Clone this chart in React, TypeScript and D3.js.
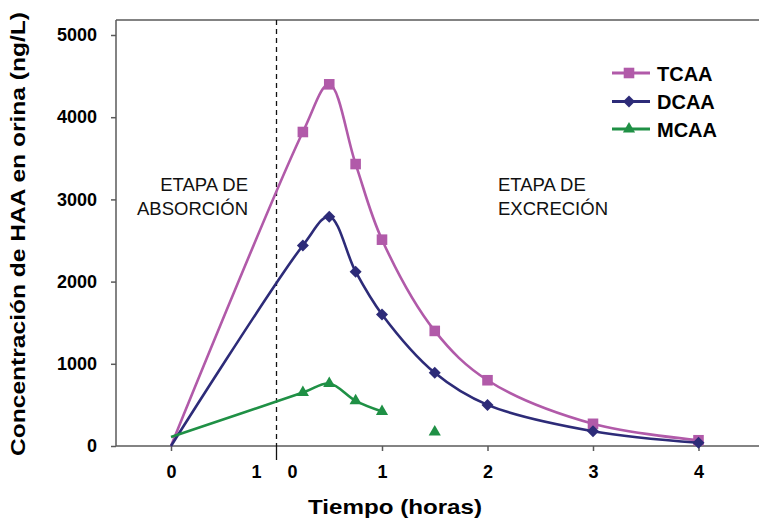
import React, { useEffect, useRef } from 'react';
import * as d3 from 'd3';

// tiempo en horas; -1 = comienzo de la etapa de absorción, 0 = inicio de la excreción
const tiempos = [-1, 0.25, 0.5, 0.75, 1, 1.5, 2, 3, 4];
const tcaa = [0, 3820, 4400, 3430, 2510, 1400, 800, 270, 70];
const dcaa = [0, 2440, 2790, 2120, 1600, 890, 500, 180, 40];
const mcaa = [110, 650, 760, 550, 420, 170, null, null, null];

const yTicks = [0, 1000, 2000, 3000, 4000, 5000];
const xTicksExcrecion = [1, 2, 3, 4];
const etiquetasDivisor = ['1', '0'];

const W = 759;
const H = 521;
const FONT = '"Liberation Sans", Arial, Helvetica, sans-serif';

const App = () => {
    const ref = useRef<SVGSVGElement>(null);

    useEffect(() => {
        const svg = d3.select(ref.current);
        svg.selectAll('*').remove();

        const frame = { left: 116, top: 20, right: W, bottom: 446 };
        const xScale = d3.scaleLinear().domain([-1, 4]).range([171, 698.5]);
        const yScale = d3.scaleLinear().domain([0, 5000]).range([446, 35]);
        const axisColor = '#5a5a5a';

        const series = [
            { name: 'TCAA', values: tcaa, color: '#b15aa9', symbol: d3.symbolSquare, size: 112, rot: 0, lineEnd: 9 },
            { name: 'DCAA', values: dcaa, color: '#2d2b78', symbol: d3.symbolSquare, size: 72, rot: 45, lineEnd: 9 },
            { name: 'MCAA', values: mcaa, color: '#1f9045', symbol: d3.symbolTriangle, size: 64, rot: 0, lineEnd: 5 },
        ];

        // marco
        const g = svg.append('g');
        g.append('line')
            .attr('x1', frame.left).attr('x2', frame.right)
            .attr('y1', frame.top).attr('y2', frame.top)
            .attr('stroke', axisColor).attr('stroke-width', 1.5);

        // eje Y
        const yAxis = g.append('g')
            .attr('transform', `translate(${frame.left},0)`)
            .call(d3.axisLeft(yScale).tickValues(yTicks).tickSize(5).tickPadding(14).tickFormat(d3.format('d')));
        yAxis.select('.domain').remove();
        yAxis.selectAll('line').attr('stroke', axisColor).attr('stroke-width', 1.5);
        yAxis.selectAll('text')
            .attr('font-family', FONT).attr('font-size', 18).attr('font-weight', 'bold').attr('fill', '#000');
        g.append('line')
            .attr('x1', frame.left).attr('x2', frame.left)
            .attr('y1', frame.top).attr('y2', frame.bottom)
            .attr('stroke', axisColor).attr('stroke-width', 1.5);

        // eje X
        const xAxis = g.append('g')
            .attr('transform', `translate(0,${frame.bottom})`)
            .call(d3.axisBottom(xScale).tickValues([-1, ...xTicksExcrecion]).tickSize(5).tickPadding(14)
                .tickFormat(d => (d === -1 ? '0' : String(d))));
        xAxis.select('.domain').remove();
        xAxis.selectAll('line').attr('stroke', axisColor).attr('stroke-width', 1.5);
        xAxis.selectAll('text')
            .attr('font-family', FONT).attr('font-size', 18).attr('font-weight', 'bold').attr('fill', '#000');
        g.append('line')
            .attr('x1', frame.left).attr('x2', frame.right)
            .attr('y1', frame.bottom).attr('y2', frame.bottom)
            .attr('stroke', axisColor).attr('stroke-width', 1.5);

        // divisor entre etapas
        const xd = xScale(0);
        g.append('line')
            .attr('x1', xd).attr('x2', xd).attr('y1', frame.top).attr('y2', frame.bottom)
            .attr('stroke', '#111').attr('stroke-width', 1.3).attr('stroke-dasharray', '5,4');
        g.append('line')
            .attr('x1', xd).attr('x2', xd).attr('y1', frame.bottom).attr('y2', frame.bottom + 14)
            .attr('stroke', '#111').attr('stroke-width', 1.3);
        etiquetasDivisor.forEach((lab, i) => {
            g.append('text')
                .attr('x', xd + (i === 0 ? -20 : 16)).attr('y', frame.bottom + 19)
                .attr('dy', '0.71em').attr('text-anchor', 'middle')
                .attr('font-family', FONT).attr('font-size', 18).attr('font-weight', 'bold')
                .text(lab);
        });

        // títulos de ejes
        g.append('text')
            .attr('x', 395).attr('y', 514).attr('text-anchor', 'middle')
            .attr('font-family', FONT).attr('font-size', 21).attr('font-weight', 'bold')
            .attr('textLength', 174).attr('lengthAdjust', 'spacingAndGlyphs')
            .text('Tiempo (horas)');
        g.append('text')
            .attr('transform', 'translate(25,234) rotate(-90)').attr('text-anchor', 'middle')
            .attr('font-family', FONT).attr('font-size', 21).attr('font-weight', 'bold')
            .attr('textLength', 444).attr('lengthAdjust', 'spacingAndGlyphs')
            .text('Concentración de HAA en orina (ng/L)');

        // textos de etapa
        const etapa = (x: number, anchor: string, l1: string, l2: string) => {
            [l1, l2].forEach((t, i) => {
                g.append('text')
                    .attr('x', x).attr('y', 191 + i * 24).attr('text-anchor', anchor)
                    .attr('font-family', FONT).attr('font-size', 18.5).attr('fill', '#111')
                    .text(t);
            });
        };
        etapa(248, 'end', 'ETAPA DE', 'ABSORCIÓN');
        etapa(498, 'start', 'ETAPA DE', 'EXCRECIÓN');

        // series
        series.forEach(s => {
            const pts = tiempos.map((t, i) => ({ t, v: s.values[i] }));
            const line = d3.line<{ t: number, v: number | null }>()
                .x(d => xScale(d.t))
                .y(d => yScale(d.v as number))
                .curve(d3.curveCatmullRom.alpha(0.5));
            g.append('path')
                .datum(pts.slice(0, s.lineEnd))
                .attr('d', line)
                .attr('fill', 'none')
                .attr('stroke', s.color)
                .attr('stroke-width', 2.6);

            const sym = d3.symbol().type(s.symbol).size(s.size);
            g.selectAll(null)
                .data(pts.slice(1).filter(d => d.v !== null))
                .join('path')
                .attr('d', sym)
                .attr('transform', d => `translate(${xScale(d.t)},${yScale(d.v as number)}) rotate(${s.rot})`)
                .attr('fill', s.color);
        });

        // leyenda
        const leg = g.append('g');
        const legY = [73, 101.5, 129];
        series.forEach((s, i) => {
            const y = legY[i];
            leg.append('line')
                .attr('x1', 612).attr('x2', 650).attr('y1', y).attr('y2', y)
                .attr('stroke', s.color).attr('stroke-width', 3);
            leg.append('path')
                .attr('d', d3.symbol().type(s.symbol).size(s.size)())
                .attr('transform', `translate(629,${y}) rotate(${s.rot})`)
                .attr('fill', s.color);
            leg.append('text')
                .attr('x', 657).attr('y', y + 7.5)
                .attr('font-family', FONT).attr('font-size', 20).attr('font-weight', 'bold')
                .text(s.name);
        });
    }, []);

    return (
        <svg ref={ref} width={W} height={H}
            style={{ position: 'absolute', left: 0, top: 0, background: '#fff' }} />
    );
};

export default App;
